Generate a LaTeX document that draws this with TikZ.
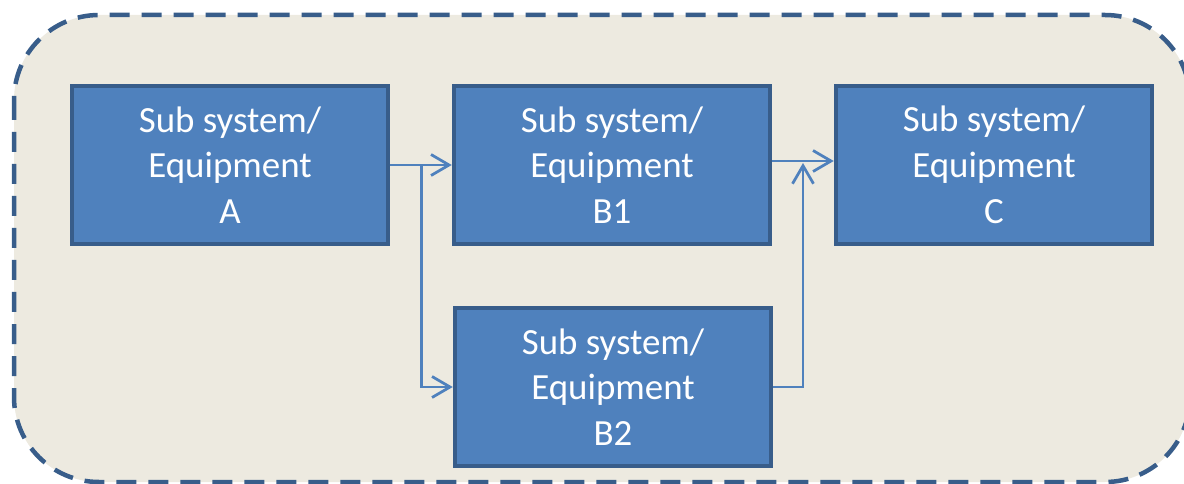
\documentclass[tikz,border=0pt]{standalone}
\usepackage{fontspec}
\setmainfont{Carlito}
\usetikzlibrary{positioning, arrows.meta}
\definecolor{sysblue}{HTML}{4F81BD}
\definecolor{sysedge}{HTML}{385D8A}
\definecolor{sysback}{HTML}{EDEAE0}

\begin{document}
\begin{tikzpicture}[
      every node/.style={font=\fontsize{21}{26}\selectfont},
      unit/.style={draw=sysedge, line width=0.09cm, fill=sysblue, text=white,
        minimum width=6.32cm, minimum height=3.16cm, align=center},
      link/.style={draw=sysblue, line width=0.055cm},
      >={Straight Barb[length=0.36cm, width=0.42cm]},
    ]
    \useasboundingbox (0,0) rectangle (23.68,-9.68);
    % system boundary
    \draw[sysedge, fill=sysback, line width=0.09cm, dash pattern=on 0.4cm off 0.24cm,
      rounded corners=1.7cm] (0.28,-0.3) rectangle (23.8,-9.64);

    \node[unit] (a) at (4.6, -3.3) {Sub system/\\Equipment\\A};
    \node[unit] (b1) at (12.24, -3.3) {Sub system/\\Equipment\\B1};
    \node[unit] (c) at (19.88, -3.3) {Sub system/\\Equipment\\C};
    \node[unit] (b2) at (12.26, -7.74) {Sub system/\\Equipment\\B2};

    % A splits to B1 and B2
    \coordinate (split) at (8.43, -3.3);
    \draw[link, ->] (a.east) -- (b1.west);
    \draw[link, ->] (split) |- (b2.west);

    % B1 and B2 join into C
    \coordinate (join) at (16.06, -3.26);
    \draw[link, ->] ([yshift=0.08cm]b1.east) -- ([yshift=0.08cm]c.west);
    \draw[link, ->] (b2.east) -| (join);
  \end{tikzpicture}
\end{document}
